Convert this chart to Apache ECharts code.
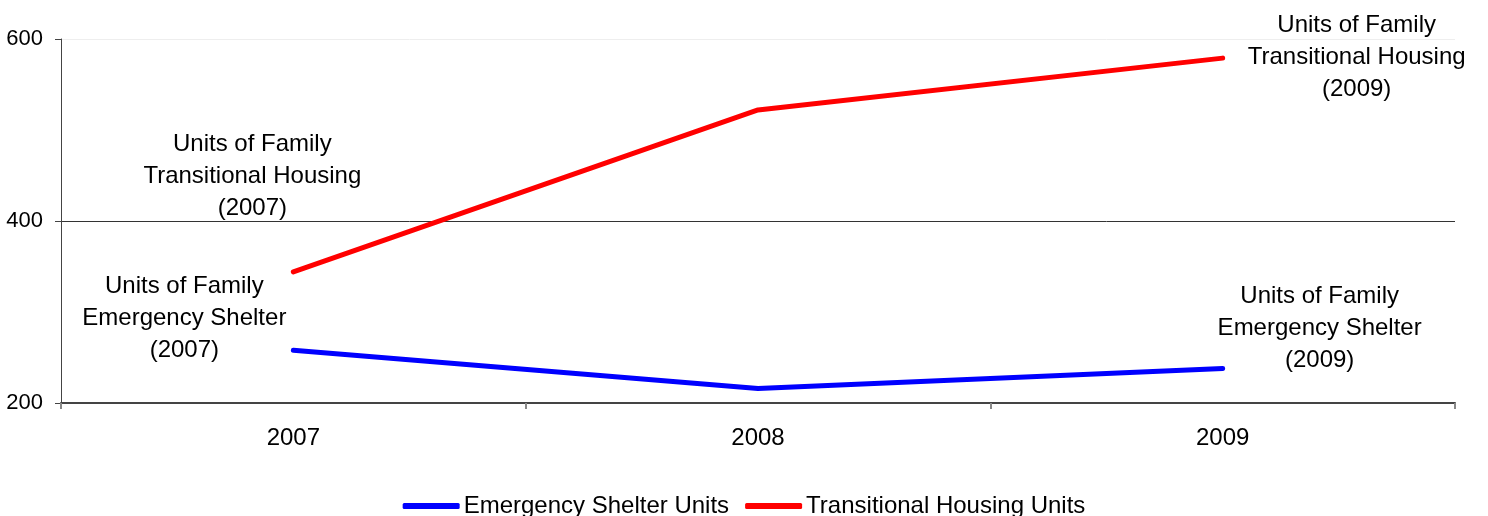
<!DOCTYPE html>
<html>
<head>
<meta charset="utf-8">
<script src="https://cdn.jsdelivr.net/npm/echarts@6/dist/echarts.min.js"></script>
<style>
  html, body { margin: 0; padding: 0; background: #fff; }
  #chart { width: 1488px; height: 516px; }
</style>
</head>
<body>
<div id="chart"></div>
<script>
var categories = ["2007", "2008", "2009"];
var emergencyUnits = [258, 216, 238];
var transitionalUnits = [344, 522, 579];
var emergencyNotes = ["Units of Family\nEmergency Shelter\n(2007)", "", "Units of Family\nEmergency Shelter\n(2009)"];
var transitionalNotes = ["Units of Family\nTransitional Housing\n(2007)", "", "Units of Family\nTransitional Housing\n(2009)"];
var yTicks = [200, 400, 600];

// label offsets from each point (layout only)
var emergencyOffsets = [[-109, -32], null, [97, -40]];
var transitionalOffsets = [[-41, -96], null, [134, -1]];

var font = "Liberation Sans, Arial, sans-serif";

function buildData(values, notes, offsets) {
  return values.map(function (v, i) {
    if (!notes[i]) return v;
    return {
      value: v,
      label: {
        show: true,
        formatter: notes[i],
        position: "inside",
        offset: offsets[i],
        align: "center",
        verticalAlign: "middle",
        fontFamily: font,
        fontSize: 24,
        lineHeight: 32,
        color: "#000"
      }
    };
  });
}

var chart = echarts.init(document.getElementById("chart"));
var option = {
  animation: false,
  grid: { left: 61, right: 33, top: 39, bottom: 113 },
  legend: {
    top: 489,
    left: "center",
    itemWidth: 57,
    itemHeight: 6,
    itemGap: 16,
    icon: "roundRect",
    textStyle: { fontFamily: font, fontSize: 24, color: "#000", padding: [0, 0, 0, -1] },
    data: ["Emergency Shelter Units", "Transitional Housing Units"]
  },
  xAxis: {
    type: "category",
    data: categories,
    boundaryGap: true,
    axisLine: { lineStyle: { color: "#444", width: 2 } },
    axisTick: { show: true, length: 6, lineStyle: { color: "#888", width: 2 } },
    axisLabel: { fontFamily: font, fontSize: 24, color: "#000", margin: 23 }
  },
  yAxis: {
    type: "value",
    min: 200,
    max: 600,
    interval: 200,
    axisLine: { show: true, lineStyle: { color: "#444", width: 1 } },
    axisTick: { show: true, inside: false, length: 6, lineStyle: { color: "#444" } },
    axisLabel: {
      fontFamily: font, fontSize: 22, color: "#000", margin: 18,
      formatter: function (v) { return yTicks.indexOf(v) >= 0 ? v : ""; }
    },
    splitLine: { show: true, lineStyle: { color: ["#444", "#333", "#eeeeee"], width: 1 } }
  },
  series: [
    {
      name: "Emergency Shelter Units",
      type: "line",
      data: buildData(emergencyUnits, emergencyNotes, emergencyOffsets),
      symbol: "circle",
      symbolSize: 1,
      itemStyle: { color: "#0000ff" },
      lineStyle: { color: "#0000ff", width: 5, cap: "round" }
    },
    {
      name: "Transitional Housing Units",
      type: "line",
      data: buildData(transitionalUnits, transitionalNotes, transitionalOffsets),
      symbol: "circle",
      symbolSize: 1,
      itemStyle: { color: "#ff0000" },
      lineStyle: { color: "#ff0000", width: 5, cap: "round" }
    }
  ]
};
chart.setOption(option);
</script>
</body>
</html>
